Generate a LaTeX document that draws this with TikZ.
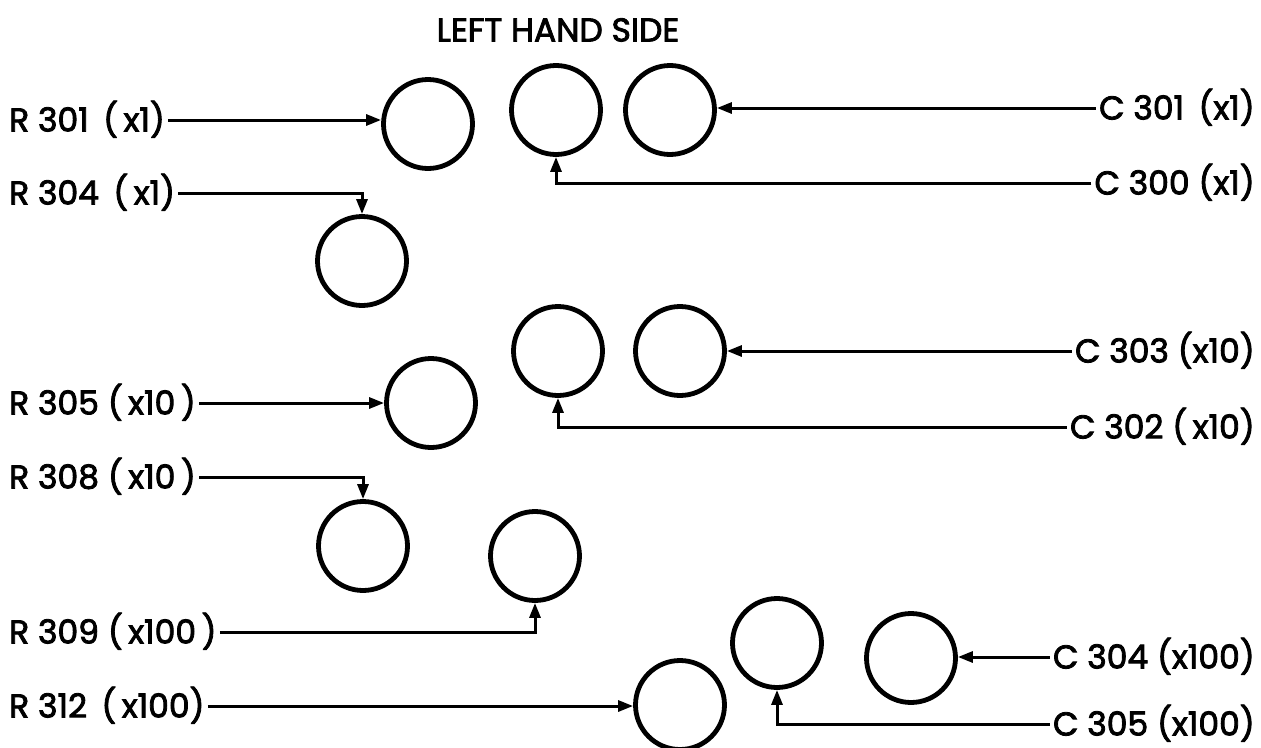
\documentclass[tikz,border=0pt]{standalone}
\usepackage{fontspec}
\setmainfont{Poppins}[FakeBold=2.5]
\usetikzlibrary{arrows.meta}
\begin{document}
\begin{tikzpicture}[x=1pt,y=-1pt,
  hole/.style={circle,draw,line width=4.8pt,minimum size=89pt,inner sep=0pt},
  lbl/.style={font=\fontsize{33}{33}\selectfont,inner xsep=3pt,inner ysep=0pt,text height=23pt,text depth=0pt},
  wire/.style={line width=3pt,-{Triangle[length=15pt,width=11pt]}}]
\useasboundingbox (0,0) rectangle (1261,747);
\clip (0,0) rectangle (1261,747);
% title
\node[lbl,anchor=center] (title) at (558,30) {LEFT HAND SIDE};
% holes
\node[hole] (A) at (428,124) {};
\node[hole] (B) at (556,110) {};
\node[hole] (C) at (670,110) {};
\node[hole] (D) at (362,261) {};
\node[hole] (E) at (558,351) {};
\node[hole] (F) at (680,351) {};
\node[hole] (G) at (431,403) {};
\node[hole] (H) at (363,546) {};
\node[hole] (I) at (535,556) {};
\node[hole] (J) at (777,643) {};
\node[hole] (K) at (911,658) {};
\node[hole] (L) at (680,705) {};
% left labels
\node[lbl,anchor=west] (r301) at (6,120) {R 301 \,(\,x1)};
\node[lbl,anchor=west] (r304) at (6,193) {R 304 \,(\,x1)};
\node[lbl,anchor=west] (r305) at (6,403) {R 305 (\,x10\,)};
\node[lbl,anchor=west] (r308) at (6,477) {R 308 (\,x10\,)};
\node[lbl,anchor=west] (r309) at (6,632) {R 309 (\,x100\,)};
\node[lbl,anchor=west] (r312) at (6,706) {R 312 \,(\,x100)};
% right labels
\node[lbl,anchor=east] (c301) at (1258,108) {C 301 \,(x1)};
\node[lbl,anchor=east] (c300) at (1258,183) {C 300 (x1)};
\node[lbl,anchor=east] (c303) at (1258,351) {C 303 (x10)};
\node[lbl,anchor=east] (c302) at (1258,427) {C 302 (\,x10)};
\node[lbl,anchor=east] (c304) at (1258,657) {C 304 (x100)};
\node[lbl,anchor=east] (c305) at (1258,724) {C 305 (x100)};
% connectors
\draw[wire] (r301.east) -- (r301.east -| A.west);
\draw[wire] (r304.east) -| (D.north);
\draw[wire] (c301.west) -- (c301.west -| C.east);
\draw[wire] (c300.west) -| (B.south);
\draw[wire] (c303.west) -- (c303.west -| F.east);
\draw[wire] (c302.west) -| (E.south);
\draw[wire] (r305.east) -- (r305.east -| G.west);
\draw[wire] (r308.east) -| (H.north);
\draw[wire] (r309.east) -| (I.south);
\draw[wire] (r312.east) -- (r312.east -| L.west);
\draw[wire] (c304.west) -- (c304.west -| K.east);
\draw[wire] (c305.west) -| (J.south);
\end{tikzpicture}
\end{document}
